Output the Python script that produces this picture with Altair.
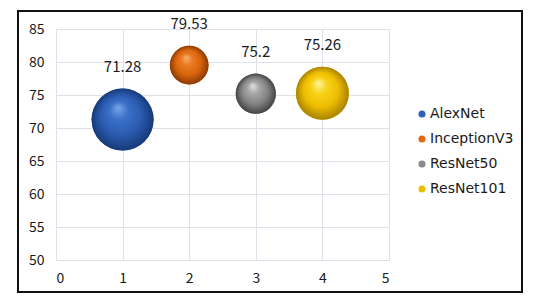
import altair as alt
import pandas as pd

models = ["AlexNet", "InceptionV3", "ResNet50", "ResNet101"]
xpos = [1, 2, 3, 4]
accuracy = [71.28, 79.53, 75.2, 75.26]
params = [61.0, 23.8, 25.6, 44.5]  # bubble size (model parameters, millions)
x_ticks = [0, 1, 2, 3, 4, 5]
y_ticks = [50, 55, 60, 65, 70, 75, 80, 85]

solid = ["#2f60b9", "#e0680f", "#8a8a8a", "#e9bf00"]
grad_stops = {
    "AlexNet": ["#79a6ea", "#3a70c8", "#2a5bb0", "#173a78"],
    "InceptionV3": ["#f9b46c", "#ea7a22", "#d9640c", "#8a3a04"],
    "ResNet50": ["#e2e2e2", "#a6a6a6", "#838383", "#444444"],
    "ResNet101": ["#fff6a0", "#f8d21a", "#eebd00", "#a88200"],
}

df = pd.DataFrame({"model": models, "x": xpos, "acc": accuracy, "params": params})

W, H = 333, 231
FONT = "Noto Sans CJK SC"
size_scale = alt.Scale(type="linear", zero=True, domain=[0, 61], range=[0, 3844])
xs = alt.Scale(domain=[0, 5], nice=False)
ys = alt.Scale(domain=[50, 85], nice=False)

x_axis = alt.Axis(values=x_ticks, format="d", title=None, labelFontSize=14, labelPadding=11, domain=False,
                  ticks=False, grid=True, gridColor="#dde1ea", labelColor="#1a1a1a", labelFont=FONT,
                  labelOverlap=False)
y_axis = alt.Axis(values=y_ticks, format="d", title=None, labelFontSize=14, labelPadding=12, domain=False,
                  ticks=False, grid=True, gridColor="#dde1ea", labelColor="#1a1a1a", labelFont=FONT,
                  labelOverlap=False)


def X(field="x:Q"):
    return alt.X(field, scale=xs, axis=x_axis)


def Y(field="acc:Q"):
    return alt.Y(field, scale=ys, axis=y_axis)


base = alt.Chart(df).mark_circle(opacity=1).encode(
    x=X(),
    y=Y(),
    size=alt.Size("params:Q", scale=size_scale, legend=None),
    color=alt.Color("model:N", scale=alt.Scale(domain=models, range=solid),
                    legend=alt.Legend(title=None, orient="none", legendX=359, legendY=78,
                                      labelFontSize=14, labelFont="DejaVu Sans", labelColor="#1a1a1a",
                                      symbolSize=50, symbolType="circle", rowPadding=11,
                                      labelOffset=1, symbolStrokeWidth=0)),
)

layers = [base]
for m in models:
    st = grad_stops[m]
    g = alt.RadialGradient(
        gradient="radial", x1=0.42, y1=0.3, r1=0.0, x2=0.5, y2=0.5, r2=0.5,
        stops=[alt.GradientStop(offset=0, color=st[0]), alt.GradientStop(offset=0.3, color=st[1]),
               alt.GradientStop(offset=0.65, color=st[2]), alt.GradientStop(offset=1, color=st[3])],
    )
    layers.append(
        alt.Chart(df).transform_filter(alt.datum.model == m).mark_circle(fill=g, opacity=1, strokeWidth=0).encode(
            x=X(),
            y=Y(),
            size=alt.Size("params:Q", scale=size_scale, legend=None),
        )
    )

px_per_unit = H / 35.0
labels = alt.Chart(df).transform_calculate(
    ly=f"datum.acc + (31*sqrt(datum.params/61) + 22)/{px_per_unit}"
).mark_text(fontSize=15, font=FONT, color="#1a1a1a", baseline="middle").encode(
    x=X(),
    y=Y("ly:Q"),
    text=alt.Text("acc:N"),
)
layers.append(labels)

border = alt.Chart(df).mark_rect(fill=None, stroke="#111111", strokeWidth=2, clip=False).encode(
    x=alt.value(-38), x2=alt.value(466), y=alt.value(-18), y2=alt.value(263)
).transform_filter(alt.datum.x == 1)

chart = alt.layer(border, *layers).properties(
    width=W, height=H,
    autosize=alt.AutoSizeParams(type="none"),
    padding={"left": 48, "top": 21, "right": 139, "bottom": 33},
).configure_view(stroke=None).configure(background="white")

chart.save("out.html", embed_options={"renderer": "svg", "actions": False})
